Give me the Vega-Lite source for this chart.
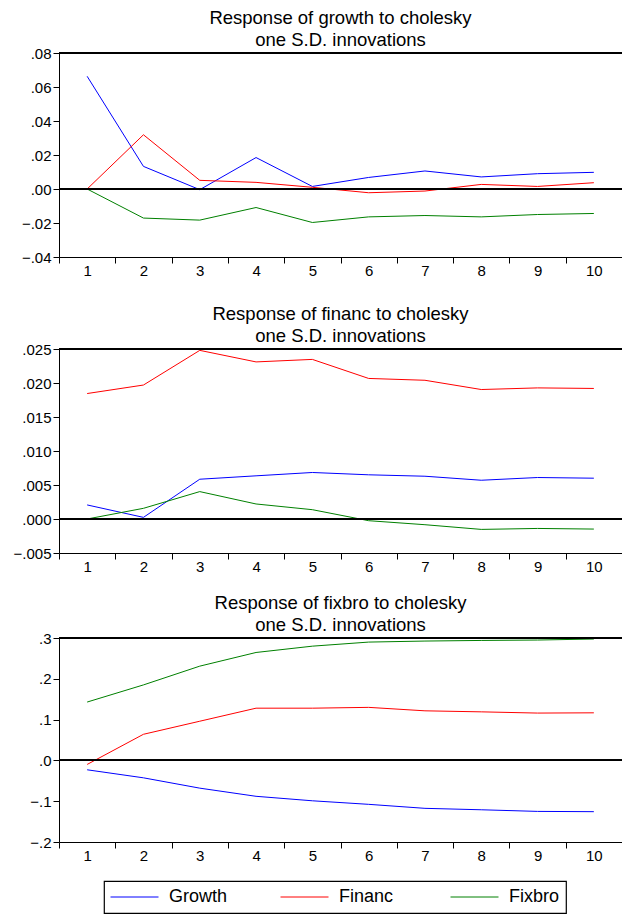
{
  "$schema": "https://vega.github.io/schema/vega-lite/v6.json",
  "padding": {"left": 5, "top": 8, "right": 0, "bottom": 0},
  "spacing": 18,
  "config": {
    "view": {"stroke": null},
    "font": "Liberation Sans",
    "axis": {"domainColor": "black", "tickColor": "black", "labelColor": "black", "labelFont": "Liberation Sans", "labelFontSize": 15, "tickSize": 6, "grid": false, "domainWidth": 1, "tickWidth": 1, "title": null, "labelPadding": 2, "labelOverlap": false},
    "axisX": {"labelPadding": 0},
    "title": {"fontSize": 18.5, "font": "Liberation Sans", "fontWeight": "normal", "color": "black", "lineHeight": 22, "offset": -3, "frame": "group", "anchor": "middle"},
    "legend": {"symbolType": "stroke", "symbolSize": 2304, "symbolStrokeWidth": 1, "labelFontSize": 18, "labelFont": "Liberation Sans", "labelColor": "black", "labelOffset": 10, "clipHeight": 20, "padding": 6, "strokeColor": "black", "strokeWidth": 1.2, "columnPadding": 52, "gridAlign": "all", "title": null}
  },
  "datasets": {
    "growth": [
      {"h": 1, "s": "Growth", "v": 0.0663}, {"h": 2, "s": "Growth", "v": 0.0133}, {"h": 3, "s": "Growth", "v": -0.0004}, {"h": 4, "s": "Growth", "v": 0.0185}, {"h": 5, "s": "Growth", "v": 0.0015},
      {"h": 6, "s": "Growth", "v": 0.0068}, {"h": 7, "s": "Growth", "v": 0.0106}, {"h": 8, "s": "Growth", "v": 0.0071}, {"h": 9, "s": "Growth", "v": 0.0090}, {"h": 10, "s": "Growth", "v": 0.0098},
      {"h": 1, "s": "Financ", "v": 0.0}, {"h": 2, "s": "Financ", "v": 0.0319}, {"h": 3, "s": "Financ", "v": 0.0051}, {"h": 4, "s": "Financ", "v": 0.0039}, {"h": 5, "s": "Financ", "v": 0.0010},
      {"h": 6, "s": "Financ", "v": -0.0022}, {"h": 7, "s": "Financ", "v": -0.0012}, {"h": 8, "s": "Financ", "v": 0.0027}, {"h": 9, "s": "Financ", "v": 0.0015}, {"h": 10, "s": "Financ", "v": 0.0037},
      {"h": 1, "s": "Fixbro", "v": 0.0}, {"h": 2, "s": "Fixbro", "v": -0.0171}, {"h": 3, "s": "Fixbro", "v": -0.0183}, {"h": 4, "s": "Fixbro", "v": -0.0109}, {"h": 5, "s": "Fixbro", "v": -0.0197},
      {"h": 6, "s": "Fixbro", "v": -0.0164}, {"h": 7, "s": "Fixbro", "v": -0.0156}, {"h": 8, "s": "Fixbro", "v": -0.0164}, {"h": 9, "s": "Fixbro", "v": -0.0150}, {"h": 10, "s": "Fixbro", "v": -0.0144}
    ],
    "financ": [
      {"h": 1, "s": "Growth", "v": 0.00207}, {"h": 2, "s": "Growth", "v": 0.00024}, {"h": 3, "s": "Growth", "v": 0.00585}, {"h": 4, "s": "Growth", "v": 0.00635}, {"h": 5, "s": "Growth", "v": 0.00684},
      {"h": 6, "s": "Growth", "v": 0.0065}, {"h": 7, "s": "Growth", "v": 0.00629}, {"h": 8, "s": "Growth", "v": 0.0057}, {"h": 9, "s": "Growth", "v": 0.0061}, {"h": 10, "s": "Growth", "v": 0.0060},
      {"h": 1, "s": "Financ", "v": 0.01845}, {"h": 2, "s": "Financ", "v": 0.0197}, {"h": 3, "s": "Financ", "v": 0.0248}, {"h": 4, "s": "Financ", "v": 0.0231}, {"h": 5, "s": "Financ", "v": 0.02347},
      {"h": 6, "s": "Financ", "v": 0.02067}, {"h": 7, "s": "Financ", "v": 0.0204}, {"h": 8, "s": "Financ", "v": 0.01904}, {"h": 9, "s": "Financ", "v": 0.01928}, {"h": 10, "s": "Financ", "v": 0.0192},
      {"h": 1, "s": "Fixbro", "v": 0.0}, {"h": 2, "s": "Fixbro", "v": 0.00157}, {"h": 3, "s": "Fixbro", "v": 0.00403}, {"h": 4, "s": "Fixbro", "v": 0.00221}, {"h": 5, "s": "Fixbro", "v": 0.00137},
      {"h": 6, "s": "Fixbro", "v": -0.00025}, {"h": 7, "s": "Fixbro", "v": -0.00084}, {"h": 8, "s": "Fixbro", "v": -0.00153}, {"h": 9, "s": "Fixbro", "v": -0.00139}, {"h": 10, "s": "Fixbro", "v": -0.00148}
    ],
    "fixbro": [
      {"h": 1, "s": "Growth", "v": -0.023}, {"h": 2, "s": "Growth", "v": -0.0427}, {"h": 3, "s": "Growth", "v": -0.068}, {"h": 4, "s": "Growth", "v": -0.088}, {"h": 5, "s": "Growth", "v": -0.099},
      {"h": 6, "s": "Growth", "v": -0.1077}, {"h": 7, "s": "Growth", "v": -0.1175}, {"h": 8, "s": "Growth", "v": -0.121}, {"h": 9, "s": "Growth", "v": -0.125}, {"h": 10, "s": "Growth", "v": -0.1257},
      {"h": 1, "s": "Financ", "v": -0.0099}, {"h": 2, "s": "Financ", "v": 0.064}, {"h": 3, "s": "Financ", "v": 0.096}, {"h": 4, "s": "Financ", "v": 0.128}, {"h": 5, "s": "Financ", "v": 0.128},
      {"h": 6, "s": "Financ", "v": 0.130}, {"h": 7, "s": "Financ", "v": 0.1215}, {"h": 8, "s": "Financ", "v": 0.119}, {"h": 9, "s": "Financ", "v": 0.116}, {"h": 10, "s": "Financ", "v": 0.1166},
      {"h": 1, "s": "Fixbro", "v": 0.143}, {"h": 2, "s": "Fixbro", "v": 0.185}, {"h": 3, "s": "Fixbro", "v": 0.231}, {"h": 4, "s": "Fixbro", "v": 0.2645}, {"h": 5, "s": "Fixbro", "v": 0.280},
      {"h": 6, "s": "Fixbro", "v": 0.290}, {"h": 7, "s": "Fixbro", "v": 0.2925}, {"h": 8, "s": "Fixbro", "v": 0.294}, {"h": 9, "s": "Fixbro", "v": 0.295}, {"h": 10, "s": "Fixbro", "v": 0.2975}
    ]
  },
  "vconcat": [
    {
      "title": {"text": ["Response of growth to cholesky", "one S.D. innovations"]},
      "width": 563, "height": 204,
      "data": {"name": "growth"},
      "layer": [
        {"mark": {"type": "line", "strokeWidth": 1},
         "encoding": {
           "x": {"field": "h", "type": "ordinal", "scale": {"type": "band", "paddingInner": 0, "paddingOuter": 0}, "bandPosition": 0.5, "axis": {"labelAngle": 0, "tickBand": "extent", "minExtent": 29, "maxExtent": 29}},
           "y": {"field": "v", "type": "quantitative", "scale": {"domain": [-0.04, 0.08], "nice": false, "zero": false}, "axis": {"values": [-0.04, -0.02, 0, 0.02, 0.04, 0.06, 0.08], "labelExpr": "replace(format(datum.value, '.2f'), '0.', '.')", "minExtent": 54, "maxExtent": 54}},
           "color": {"field": "s", "type": "nominal", "scale": {"domain": ["Growth", "Financ", "Fixbro"], "range": ["#0000ff", "#ff0000", "#008000"]}, "legend": {"orient": "none", "legendX": 45, "legendY": 828, "direction": "horizontal", "columns": 3}}
         }},
        {"mark": {"type": "rule", "color": "black", "strokeWidth": 1}, "encoding": {"y": {"datum": 0, "axis": {"values": [-0.04, -0.02, 0, 0.02, 0.04, 0.06, 0.08], "labelExpr": "replace(format(datum.value, '.2f'), '0.', '.')", "minExtent": 54, "maxExtent": 54}}}},
        {"mark": {"type": "rule", "color": "black", "strokeWidth": 1}, "encoding": {"y": {"datum": 0.08, "axis": {"values": [-0.04, -0.02, 0, 0.02, 0.04, 0.06, 0.08], "labelExpr": "replace(format(datum.value, '.2f'), '0.', '.')", "minExtent": 54, "maxExtent": 54}}}}
      ]
    },
    {
      "title": {"text": ["Response of financ to cholesky", "one S.D. innovations"]},
      "width": 563, "height": 204,
      "data": {"name": "financ"},
      "layer": [
        {"mark": {"type": "line", "strokeWidth": 1},
         "encoding": {
           "x": {"field": "h", "type": "ordinal", "scale": {"type": "band", "paddingInner": 0, "paddingOuter": 0}, "bandPosition": 0.5, "axis": {"labelAngle": 0, "tickBand": "extent", "minExtent": 22, "maxExtent": 22}},
           "y": {"field": "v", "type": "quantitative", "scale": {"domain": [-0.005, 0.025], "nice": false, "zero": false}, "axis": {"values": [-0.005, 0, 0.005, 0.01, 0.015, 0.02, 0.025], "labelExpr": "replace(format(datum.value, '.3f'), '0.', '.')", "minExtent": 54, "maxExtent": 54}},
           "color": {"field": "s", "type": "nominal", "scale": {"domain": ["Growth", "Financ", "Fixbro"], "range": ["#0000ff", "#ff0000", "#008000"]}, "legend": {"orient": "none", "legendX": 45, "legendY": 828, "direction": "horizontal", "columns": 3}}
         }},
        {"mark": {"type": "rule", "color": "black", "strokeWidth": 1}, "encoding": {"y": {"datum": 0, "axis": {"values": [-0.005, 0, 0.005, 0.01, 0.015, 0.02, 0.025], "labelExpr": "replace(format(datum.value, '.3f'), '0.', '.')", "minExtent": 54, "maxExtent": 54}}}},
        {"mark": {"type": "rule", "color": "black", "strokeWidth": 1}, "encoding": {"y": {"datum": 0.025, "axis": {"values": [-0.005, 0, 0.005, 0.01, 0.015, 0.02, 0.025], "labelExpr": "replace(format(datum.value, '.3f'), '0.', '.')", "minExtent": 54, "maxExtent": 54}}}}
      ]
    },
    {
      "title": {"text": ["Response of fixbro to cholesky", "one S.D. innovations"]},
      "width": 563, "height": 204,
      "data": {"name": "fixbro"},
      "layer": [
        {"mark": {"type": "line", "strokeWidth": 1},
         "encoding": {
           "x": {"field": "h", "type": "ordinal", "scale": {"type": "band", "paddingInner": 0, "paddingOuter": 0}, "bandPosition": 0.5, "axis": {"labelAngle": 0, "tickBand": "extent", "minExtent": 22, "maxExtent": 22}},
           "y": {"field": "v", "type": "quantitative", "scale": {"domain": [-0.2, 0.3], "nice": false, "zero": false}, "axis": {"values": [-0.2, -0.1, 0, 0.1, 0.2, 0.3], "labelExpr": "replace(format(datum.value, '.1f'), '0.', '.')", "minExtent": 54, "maxExtent": 54}},
           "color": {"field": "s", "type": "nominal", "scale": {"domain": ["Growth", "Financ", "Fixbro"], "range": ["#0000ff", "#ff0000", "#008000"]}, "legend": {"orient": "none", "legendX": 45, "legendY": 828, "direction": "horizontal", "columns": 3}}
         }},
        {"mark": {"type": "rule", "color": "black", "strokeWidth": 1}, "encoding": {"y": {"datum": 0, "axis": {"values": [-0.2, -0.1, 0, 0.1, 0.2, 0.3], "labelExpr": "replace(format(datum.value, '.1f'), '0.', '.')", "minExtent": 54, "maxExtent": 54}}}},
        {"mark": {"type": "rule", "color": "black", "strokeWidth": 1}, "encoding": {"y": {"datum": 0.3, "axis": {"values": [-0.2, -0.1, 0, 0.1, 0.2, 0.3], "labelExpr": "replace(format(datum.value, '.1f'), '0.', '.')", "minExtent": 54, "maxExtent": 54}}}}
      ]
    }
  ]
}
